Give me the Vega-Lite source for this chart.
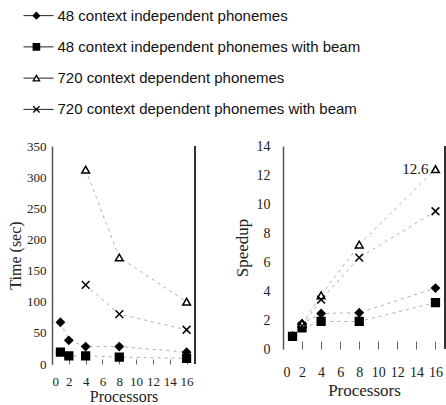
{
  "$schema": "https://vega.github.io/schema/vega-lite/v6.json",
  "padding": {"left": 7, "top": 0, "right": 0, "bottom": 0},
  "background": "white",
  "config": {
    "view": {"stroke": null},
    "font": "Liberation Serif",
    "axis": {"grid": false, "labelFont": "Liberation Serif", "titleFont": "Liberation Serif", "labelColor": "#222", "titleColor": "#222", "titleFontWeight": "normal", "domainColor": "#555", "tickColor": "#666"}
  },
  "datasets": {
    "legend": [
      {"series": "48 context independent phonemes", "row": 1},
      {"series": "48 context independent phonemes with beam", "row": 2},
      {"series": "720 context dependent phonemes", "row": 3},
      {"series": "720 context dependent phonemes with beam", "row": 4}
    ],
    "time": [
      {"series": "48 context independent phonemes", "proc": 1, "value": 67},
      {"series": "48 context independent phonemes", "proc": 2, "value": 38},
      {"series": "48 context independent phonemes", "proc": 4, "value": 28},
      {"series": "48 context independent phonemes", "proc": 8, "value": 28},
      {"series": "48 context independent phonemes", "proc": 16, "value": 19},
      {"series": "48 context independent phonemes with beam", "proc": 1, "value": 19},
      {"series": "48 context independent phonemes with beam", "proc": 2, "value": 13},
      {"series": "48 context independent phonemes with beam", "proc": 4, "value": 13},
      {"series": "48 context independent phonemes with beam", "proc": 8, "value": 11},
      {"series": "48 context independent phonemes with beam", "proc": 16, "value": 9},
      {"series": "720 context dependent phonemes", "proc": 4, "value": 312},
      {"series": "720 context dependent phonemes", "proc": 8, "value": 171},
      {"series": "720 context dependent phonemes", "proc": 16, "value": 100},
      {"series": "720 context dependent phonemes with beam", "proc": 4, "value": 127},
      {"series": "720 context dependent phonemes with beam", "proc": 8, "value": 80},
      {"series": "720 context dependent phonemes with beam", "proc": 16, "value": 55}
    ],
    "speedup": [
      {"series": "48 context independent phonemes", "proc": 1, "value": 0.9},
      {"series": "48 context independent phonemes", "proc": 2, "value": 1.75},
      {"series": "48 context independent phonemes", "proc": 4, "value": 2.45},
      {"series": "48 context independent phonemes", "proc": 8, "value": 2.5},
      {"series": "48 context independent phonemes", "proc": 16, "value": 4.2},
      {"series": "48 context independent phonemes with beam", "proc": 1, "value": 0.87},
      {"series": "48 context independent phonemes with beam", "proc": 2, "value": 1.45},
      {"series": "48 context independent phonemes with beam", "proc": 4, "value": 1.9},
      {"series": "48 context independent phonemes with beam", "proc": 8, "value": 1.9},
      {"series": "48 context independent phonemes with beam", "proc": 16, "value": 3.2},
      {"series": "720 context dependent phonemes", "proc": 2, "value": 1.75},
      {"series": "720 context dependent phonemes", "proc": 4, "value": 3.7},
      {"series": "720 context dependent phonemes", "proc": 8, "value": 7.2},
      {"series": "720 context dependent phonemes", "proc": 16, "value": 12.4},
      {"series": "720 context dependent phonemes with beam", "proc": 2, "value": 1.6},
      {"series": "720 context dependent phonemes with beam", "proc": 4, "value": 3.4},
      {"series": "720 context dependent phonemes with beam", "proc": 8, "value": 6.3},
      {"series": "720 context dependent phonemes with beam", "proc": 16, "value": 9.5}
    ],
    "note": [{"proc": 16, "value": 12.4, "label": "12.6"}]
  },
  "spacing": 14,
  "vconcat": [
    {
      "width": 390,
      "height": 125,
      "data": {"name": "legend"},
      "layer": [
        {
          "mark": {"type": "rule", "color": "#222", "strokeWidth": 1},
          "encoding": {
            "x": {"datum": -7.3, "type": "quantitative", "scale": {"domain": [0, 100]}, "axis": null},
            "x2": {"datum": 0.4},
            "y": {"field": "row", "type": "quantitative", "scale": {"domain": [0.5, 4.5], "reverse": true}, "axis": null}
          }
        },
        {
          "mark": {"type": "point", "stroke": "black", "strokeWidth": 1.3, "opacity": 1},
          "encoding": {
            "x": {"datum": -4.0, "type": "quantitative", "scale": {"domain": [0, 100]}},
            "y": {"field": "row", "type": "quantitative", "scale": {"domain": [0.5, 4.5], "reverse": true}},
            "shape": {"field": "series", "type": "nominal", "legend": null, "scale": {"domain": ["48 context independent phonemes", "48 context independent phonemes with beam", "720 context dependent phonemes", "720 context dependent phonemes with beam"], "range": ["diamond", "square", "triangle-up", "M-1,-1L1,1M-1,1L1,-1"]}},
            "fill": {"field": "series", "type": "nominal", "legend": null, "scale": {"domain": ["48 context independent phonemes", "48 context independent phonemes with beam", "720 context dependent phonemes", "720 context dependent phonemes with beam"], "range": ["black", "black", "white", "transparent"]}},
            "size": {"value": 40}
          }
        },
        {
          "mark": {"type": "text", "font": "Liberation Sans", "fontSize": 15, "align": "left", "baseline": "middle", "color": "#111"},
          "encoding": {
            "x": {"datum": 1.4, "type": "quantitative", "scale": {"domain": [0, 100]}},
            "y": {"field": "row", "type": "quantitative", "scale": {"domain": [0.5, 4.5], "reverse": true}},
            "text": {"field": "series"}
          }
        }
      ]
    },
    {
      "spacing": 37,
      "hconcat": [
        {
          "width": 143,
          "height": 218,
          "data": {"name": "time"},
          "encoding": {
            "x": {"field": "proc", "type": "quantitative", "scale": {"domain": [0, 17], "nice": false}, "axis": {"values": [0, 2, 4, 6, 8, 10, 12, 14, 16], "domain": false, "ticks": true, "tickSize": -5, "labelFontSize": 13, "labelPadding": 16, "title": "Processors", "titleFontSize": 16, "titlePadding": 0}},
            "y": {"field": "value", "type": "quantitative", "scale": {"domain": [0, 350], "nice": false}, "axis": {"values": [0, 50, 100, 150, 200, 250, 300, 350], "ticks": false, "domainWidth": 1.5, "labelFontSize": 13, "labelPadding": 6, "title": "Time (sec)", "titleFontSize": 16, "titlePadding": 3}}
          },
          "layer": [
            {
              "mark": {"type": "line", "color": "#999", "strokeWidth": 0.8, "strokeDash": [3, 4]},
              "encoding": {"detail": {"field": "series"}}
            },
            {
              "mark": {"type": "point", "stroke": "black", "strokeWidth": 1.5, "opacity": 1},
              "encoding": {
                "shape": {"field": "series", "type": "nominal", "legend": null},
                "fill": {"field": "series", "type": "nominal", "legend": null},
                "size": {"value": 60}
              }
            },
            {
              "mark": {"type": "rule", "color": "#333", "strokeWidth": 1.5},
              "encoding": {"x": {"datum": 17, "type": "quantitative"}, "y": null}
            }
          ]
        },
        {
          "width": 162,
          "height": 203,
          "data": {"name": "speedup"},
          "encoding": {
            "x": {"field": "proc", "type": "quantitative", "scale": {"domain": [0, 17], "nice": false}, "axis": {"values": [0, 2, 4, 6, 8, 10, 12, 14, 16], "domain": false, "ticks": true, "tickSize": -8, "labelFontSize": 14, "labelPadding": 24, "title": "Processors", "titleFontSize": 17, "titlePadding": 3}},
            "y": {"field": "value", "type": "quantitative", "scale": {"domain": [0, 14], "nice": false}, "axis": {"values": [0, 2, 4, 6, 8, 10, 12, 14], "ticks": false, "domainWidth": 1.5, "labelFontSize": 14, "labelPadding": 13, "title": "Speedup", "titleFontSize": 17, "titlePadding": 5}}
          },
          "layer": [
            {
              "mark": {"type": "line", "color": "#999", "strokeWidth": 0.8, "strokeDash": [3, 4]},
              "encoding": {"detail": {"field": "series"}}
            },
            {
              "mark": {"type": "point", "stroke": "black", "strokeWidth": 1.5, "opacity": 1},
              "encoding": {
                "shape": {"field": "series", "type": "nominal", "legend": null},
                "fill": {"field": "series", "type": "nominal", "legend": null},
                "size": {"value": 60}
              }
            },
            {
              "data": {"name": "note"},
              "mark": {"type": "text", "align": "right", "baseline": "middle", "dx": -7, "fontSize": 15, "font": "Liberation Serif", "color": "#111"},
              "encoding": {"text": {"field": "label"}}
            },
            {
              "mark": {"type": "rule", "color": "#333", "strokeWidth": 1.5},
              "encoding": {"x": {"datum": 17, "type": "quantitative"}, "y": null}
            }
          ]
        }
      ]
    }
  ]
}
